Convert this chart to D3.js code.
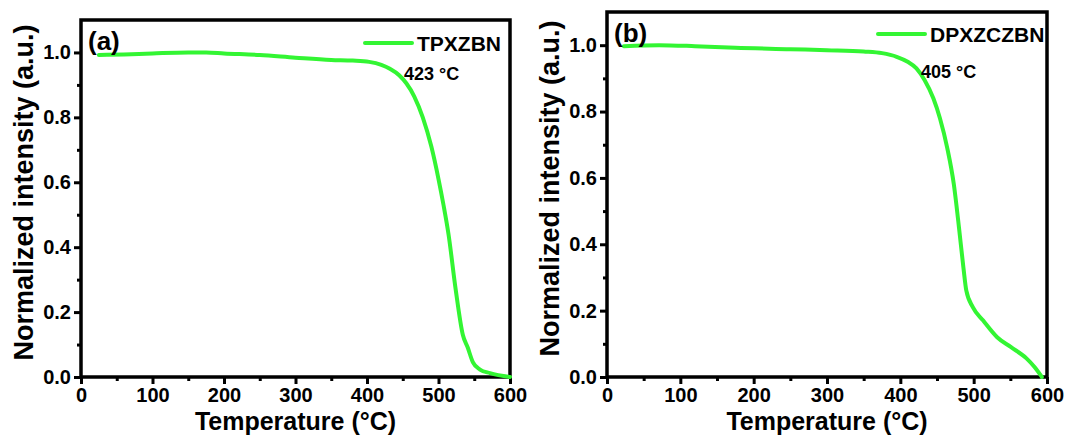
<!DOCTYPE html>
<html>
<head>
<meta charset="utf-8">
<script src="https://cdn.jsdelivr.net/npm/d3@7"></script>
<style>
body{margin:0;background:#fff;}
svg text{font-family:"Liberation Sans",Arial,sans-serif;font-weight:bold;fill:#000;}
</style>
</head>
<body>
<svg id="chart" width="1069" height="437"></svg>
<script>
// data
var tempA=[25,60,100,150,175,200,250,300,350,380,403,420,432,445,455,466,478,490,500,507,514,524,534,541,548,558,572,600];
var valA=[0.992,0.994,0.997,1.0,1.0,0.997,0.992,0.984,0.977,0.975,0.971,0.962,0.95,0.93,0.905,0.865,0.80,0.71,0.61,0.53,0.44,0.27,0.13,0.09,0.046,0.023,0.012,0.0];
var tempB=[23,71,120,175,250,300,350,375,395,410,422,433,445,454,464,473,480,486,490,499,513,532,551,572,583,593];
var valB=[0.997,1.0,0.997,0.992,0.988,0.985,0.981,0.976,0.965,0.95,0.93,0.895,0.84,0.78,0.69,0.58,0.45,0.33,0.26,0.21,0.17,0.12,0.09,0.056,0.03,0.0];
var panelTags=["(a)","(b)"];
var seriesNames=["TPXZBN","DPXZCZBN"];
var onsetLabels=["423 °C","405 °C"];
var xTicks=[0,100,200,300,400,500,600];
var yTicks=[0,0.2,0.4,0.6,0.8,1.0];

var svg=d3.select("#chart");
var GREEN="#33f533";

//面板布局
var panels=[
	{left:81,right:510,top:20,bottom:377,xs:tempA,ys:valA,tag:panelTags[0],name:seriesNames[0],note:onsetLabels[0],
	 legX:365,legY:43,noteX:404,noteY:80},
	{left:607,right:1047,top:12,bottom:377,xs:tempB,ys:valB,tag:panelTags[1],name:seriesNames[1],note:onsetLabels[1],
	 legX:878,legY:34,noteX:921,noteY:78}
];

panels.forEach(drawPanel);

function drawPanel(p){
	var x=d3.scaleLinear().domain([0,600]).range([p.left,p.right]);
	var y=d3.scaleLinear().domain([0,1.1]).range([p.bottom,p.top]);
	var g=svg.append("g");

	//minor ticks
	g.append("g").attr("transform","translate(0,"+p.bottom+")")
		.call(d3.axisBottom(x).tickValues(d3.range(50,600,100)).tickSize(4).tickFormat(""))
		.call(styleAxis);
	g.append("g").attr("transform","translate("+p.left+",0)")
		.call(d3.axisLeft(y).tickValues([0.1,0.3,0.5,0.7,0.9]).tickSize(4).tickFormat(""))
		.call(styleAxis);

	//major ticks
	g.append("g").attr("transform","translate(0,"+p.bottom+")")
		.call(d3.axisBottom(x).tickValues(xTicks).tickSize(7).tickPadding(4).tickFormat(d3.format("d")))
		.call(styleAxis);
	g.append("g").attr("transform","translate("+p.left+",0)")
		.call(d3.axisLeft(y).tickValues(yTicks).tickSize(7).tickPadding(3).tickFormat(d3.format(".1f")))
		.call(styleAxis);

	//frame
	g.append("rect")
		.attr("x",p.left).attr("y",p.top)
		.attr("width",p.right-p.left).attr("height",p.bottom-p.top)
		.attr("fill","none").attr("stroke","#000").attr("stroke-width",3.5);

	//curve
	var pts=p.xs.map(function(d,i){return [d,p.ys[i]];});
	g.append("path")
		.datum(pts)
		.attr("fill","none")
		.attr("stroke",GREEN)
		.attr("stroke-width",4)
		.attr("stroke-linecap","round")
		.attr("stroke-linejoin","round")
		.attr("d",d3.line().x(function(d){return x(d[0]);}).y(function(d){return y(d[1]);}).curve(d3.curveMonotoneX));

	//legend
	g.append("line")
		.attr("x1",p.legX).attr("x2",p.legX+47)
		.attr("y1",p.legY).attr("y2",p.legY)
		.attr("stroke",GREEN).attr("stroke-width",4).attr("stroke-linecap","round");
	g.append("text").text(p.name)
		.attr("x",p.legX+52).attr("y",p.legY+8)
		.style("font-size","21px");

	g.append("text").text(p.note)
		.attr("x",p.noteX).attr("y",p.noteY)
		.style("font-size","18px");

	g.append("text").text(p.tag)
		.attr("x",p.left+7).attr("y",p.top+30)
		.style("font-size","26px");

	//axis titles
	g.append("text").text("Temperature (°C)")
		.attr("x",(p.left+p.right)/2).attr("y",430)
		.attr("text-anchor","middle")
		.style("font-size","25px");
	g.append("text").text("Normalized intensity (a.u.)")
		.attr("transform","translate("+(p.left-48)+","+((p.top+p.bottom)/2-6)+") rotate(-90)")
		.attr("text-anchor","middle")
		.style("font-size","27px");
}

function styleAxis(sel){
	sel.select(".domain").remove();
	sel.selectAll(".tick line").attr("stroke","#000").attr("stroke-width",3);
	sel.selectAll(".tick text").style("font-size","20px").attr("fill","#000");
}
</script>
</body>
</html>
